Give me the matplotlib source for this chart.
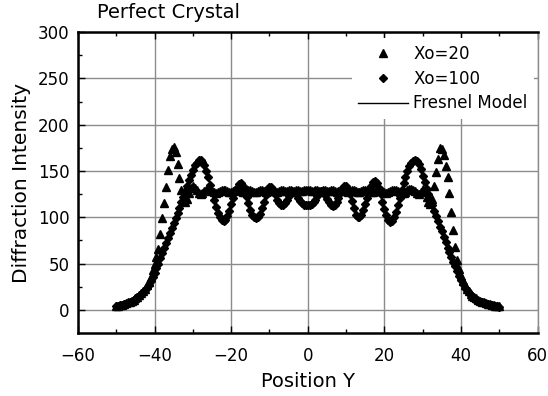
import numpy as np
import matplotlib
matplotlib.use("Agg")
import matplotlib.pyplot as plt

plt.rcParams['font.family'] = ['DejaVu Sans']

# Positions (sampling grid of the measured profiles)
pos = np.arange(-50, 50.01, 0.5)
pos_model = np.arange(-50, 50.01, 1.0)

# Xo=20 (triangles)
xo20 = [
    4, 4.5, 5, 5.5, 6.5, 7, 8, 9, 10, 11,
    12.5, 14, 16, 18, 20.5, 23, 26.5, 30, 36, 43,
    50, 57, 66, 82, 99, 115, 133, 151, 166, 174,
    176, 170, 157, 142, 129, 121, 117, 120, 126, 132,
    134, 132, 129, 126, 125, 126, 128, 130, 131, 130,
    128, 127, 126, 127, 128, 129, 130, 129, 128, 127,
    127, 128, 129, 130, 129, 128, 127, 127, 128, 129,
    129, 128, 127, 127, 128, 129, 129, 128, 127, 128,
    128, 129, 129, 128, 127, 128, 129, 129, 128, 128,
    129, 129, 128, 128, 129, 129, 128, 128, 129, 129,
    129,
    129, 128, 128, 129, 129, 128, 128, 129, 129, 128,
    128, 129, 129, 128, 127, 128, 129, 129, 128, 128,
    127, 128, 129, 129, 128, 127, 127, 128, 129, 130,
    129, 128, 127, 127, 128, 129, 130, 129, 128, 127,
    126, 127, 128, 129, 130, 129, 128, 127, 126, 126,
    127, 129, 131, 131, 130, 128, 126, 125, 127, 131,
    128, 122, 116, 114, 120, 134, 149, 163, 175, 174,
    167, 155, 143, 126, 106, 86, 68, 54, 44, 37,
    31, 27, 23, 20, 17.5, 15.5, 14, 12.5, 11, 10,
    9, 8, 7, 6.5, 6, 5.5, 5, 4.5, 4, 4,
]

# Xo=100 (diamonds)
xo100 = [
    4, 4.5, 5, 5.5, 6, 6.5, 7.5, 8.5, 9.5, 10.5,
    12, 13.5, 15, 17, 19, 21.5, 24, 27, 31, 35,
    40, 45, 50, 55.5, 61, 66.5, 72, 77.5, 83, 88.5,
    94, 99.5, 105, 110.5, 116, 122, 128, 134, 140, 146,
    151, 156, 159, 162, 162, 160, 156, 150, 143, 135,
    127, 119, 111, 105, 100, 97, 96, 97, 101, 107,
    114, 121, 127, 132, 136, 137, 134, 129, 122, 115,
    108, 103, 100, 99, 100, 104, 110, 117, 124, 130,
    133, 133, 130, 125, 119, 115, 113, 113, 115, 119,
    123, 126, 128, 127, 125, 121, 118, 115, 113, 113,
    113,
    113, 114, 116, 119, 123, 126, 128, 127, 124, 120,
    116, 113, 112, 113, 116, 121, 126, 131, 134, 134,
    131, 125, 118, 110, 103, 100, 100, 103, 108, 114,
    121, 128, 134, 138, 139, 137, 132, 125, 117, 109,
    102, 97, 95, 96, 100, 106, 113, 121, 129, 137,
    144, 150, 155, 159, 161, 162, 161, 157, 152, 145,
    138, 131, 125, 119, 113, 107, 101, 96, 90, 85,
    79, 73, 67, 62, 57, 52, 47, 42, 37, 32,
    28, 24, 21, 18, 16, 14, 12, 11, 10, 9,
    8, 7, 6.5, 6, 5.5, 5, 4.5, 4, 4, 3.5,
]

# Fresnel model (line)
fresnel = [
    4, 5, 6, 7.5, 9.5, 12, 15, 19, 24, 31,
    40, 50, 61, 72, 83, 94, 105, 116, 128, 140,
    151, 159, 162, 156, 143, 127, 111, 100, 96, 101,
    114, 127, 136, 134, 122, 108, 100, 100, 110, 124,
    133, 130, 119, 113, 115, 123, 128, 125, 118, 113,
    113,
    114, 119, 126, 127, 120, 113, 113, 121, 131, 134,
    125, 110, 100, 103, 114, 128, 138, 137, 125, 109,
    97, 96, 106, 121, 137, 150, 159, 162, 157, 145,
    131, 119, 107, 96, 85, 73, 62, 52, 42, 32,
    24, 18, 14, 11, 9, 7, 6, 5, 4, 3.5,
]

fig = plt.figure(figsize=(5.48, 3.96), dpi=100)
ax = fig.add_axes([0.1423, 0.159, 0.8387, 0.760])

ax.plot(pos, xo20, linestyle='none', marker='^', color='black', markersize=5.8,
        label='Xo=20', zorder=3)
ax.plot(pos, xo100, linestyle='none', marker='D', color='black', markersize=3.7,
        label='Xo=100', zorder=4)
ax.plot(pos_model, fresnel, color='black', linewidth=1.0, label='Fresnel Model', zorder=5)

ax.set_xlim(-60, 60)
ax.set_ylim(-25, 300)
ax.set_xticks([-60, -40, -20, 0, 20, 40, 60])
ax.set_yticks([0, 50, 100, 150, 200, 250, 300])
ax.set_xticks(np.arange(-50, 60, 20), minor=True)
ax.set_yticks([25, 75, 125, 175, 225, 275], minor=True)

ax.grid(True, which='major', color='#8c8c8c', linewidth=1.0, zorder=0)
ax.set_axisbelow(True)

ax.tick_params(which='major', direction='in', length=5, width=1, labelsize=12,
               top=True, right=False, colors='black')
ax.tick_params(which='minor', direction='in', length=3, width=1, top=True, right=False)
ax.tick_params(axis='x', pad=10)
ax.tick_params(axis='y', pad=6)

for s in ['top', 'bottom', 'left']:
    ax.spines[s].set_linewidth(1.8)
    ax.spines[s].set_color('black')
ax.spines['right'].set_linewidth(1.0)
ax.spines['right'].set_color('#8c8c8c')

ax.set_xlabel('Position Y', fontsize=14, labelpad=5)
ax.set_ylabel('Diffraction Intensity', fontsize=14.5, labelpad=5)

fig.text(97 / 548, 1 - 13 / 396, 'Perfect Crystal', fontsize=14, ha='left', va='center')

leg = ax.legend(loc='upper right', bbox_to_anchor=(1.0, 0.99), fontsize=12,
                frameon=True, fancybox=False, framealpha=1.0, edgecolor='none',
                facecolor='white', handlelength=3.0, numpoints=1,
                borderaxespad=0.2, handletextpad=0.3, labelspacing=0.4)

fig.savefig('out.png', dpi=100)
